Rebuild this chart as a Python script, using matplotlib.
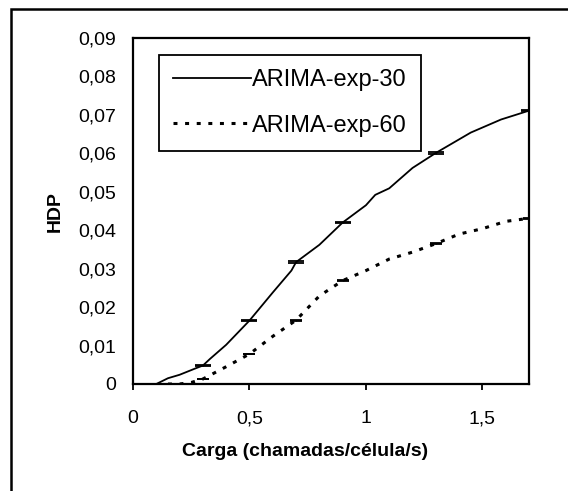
import matplotlib
matplotlib.use("Agg")
import matplotlib.pyplot as plt
from matplotlib.patches import Rectangle

plt.rcParams['font.family'] = ['Liberation Sans', 'DejaVu Sans']

# ARIMA-exp-30 (solid)
x_30 = [0.1, 0.15, 0.2, 0.27, 0.3, 0.33, 0.4, 0.5, 0.6, 0.68, 0.7, 0.8, 0.9, 1.0, 1.04, 1.1, 1.2, 1.3, 1.45, 1.58, 1.7]
hdp_30 = [0.0, 0.0015, 0.0024, 0.0041, 0.0048, 0.0065, 0.0102, 0.0165, 0.0238, 0.0295, 0.0317, 0.0362,
          0.042, 0.0465, 0.0492, 0.0509, 0.0562, 0.0601, 0.0654, 0.0688, 0.0711]

# ARIMA-exp-60 (dotted)
x_60 = [0.15, 0.2, 0.25, 0.3, 0.4, 0.5, 0.6, 0.7, 0.8, 0.9, 1.0, 1.1, 1.2, 1.3, 1.4, 1.5, 1.6, 1.7]
hdp_60 = [0.0, 0.0, 0.0004, 0.0013, 0.0045, 0.0078, 0.0124, 0.0166, 0.0229, 0.0269, 0.0295,
          0.0325, 0.0343, 0.0365, 0.039, 0.0404, 0.0423, 0.0431]

# points with (tiny) confidence intervals
err_x = [0.3, 0.5, 0.7, 0.9, 1.3, 1.7]
err_30 = [0.0048, 0.0165, 0.0317, 0.042, 0.0601, 0.0711]
err_60 = [0.0013, 0.0078, 0.0166, 0.0269, 0.0365, 0.0431]
err_size = 0.0002

x_ticks = [0, 0.5, 1, 1.5]
x_tick_labels = ["0", "0,5", "1", "1,5"]
y_ticks = [0, 0.01, 0.02, 0.03, 0.04, 0.05, 0.06, 0.07, 0.08, 0.09]
y_tick_labels = ["0", "0,01", "0,02", "0,03", "0,04", "0,05", "0,06", "0,07", "0,08", "0,09"]

W, H = 568, 491
fig = plt.figure(figsize=(W / 100, H / 100), dpi=100)
ax = fig.add_axes([133 / W, 1 - 384 / H, (529 - 133) / W, (384 - 38) / H])

ax.plot(x_30, hdp_30, color='black', lw=1.3, label='ARIMA-exp-30')
ax.plot(x_60, hdp_60, color='black', lw=2.2, linestyle=(0, (1.3, 2.5)), label='ARIMA-exp-60')
ax.errorbar(err_x, err_30, yerr=err_size, fmt='none', ecolor='black', elinewidth=1, capsize=6, capthick=1.3)
ax.errorbar(err_x, err_60, yerr=err_size * 0.5, fmt='none', ecolor='black', elinewidth=1, capsize=4, capthick=1.3)

ax.set_xlim(0, 1.7)
ax.set_ylim(0, 0.09)
ax.set_xticks(x_ticks)
ax.set_xticklabels(x_tick_labels)
ax.set_yticks(y_ticks)
ax.set_yticklabels(y_tick_labels)
ax.tick_params(axis='x', direction='out', length=4, width=1.3, pad=15, labelsize=14)
ax.tick_params(axis='y', length=0, pad=12, labelsize=14)
for sp in ax.spines.values():
    sp.set_linewidth(1.6)

leg = ax.legend(loc='upper left', bbox_to_anchor=(0.066, 0.951), borderaxespad=0,
                fontsize=17, handlelength=3.3, handletextpad=0.05, labelspacing=1.0,
                fancybox=False, framealpha=1, edgecolor='black', borderpad=0.6)
leg.get_frame().set_linewidth(1.3)

fig.text(305 / W, 1 - 451 / H, "Carga (chamadas/célula/s)", ha='center', va='center',
         fontsize=14, fontweight='bold')
fig.text(55 / W, 1 - 212 / H, "HDP", ha='center', va='center', rotation=90,
         fontsize=14, fontweight='bold')

# outer chart frame (cut by the image edges on the right and bottom)
fig.add_artist(Rectangle((11 / W, -0.2), 1.5, 1 - 9 / H + 0.2, transform=fig.transFigure,
                         fill=False, lw=1.8, edgecolor='black', clip_on=False))

fig.savefig("out.png", dpi=100)
